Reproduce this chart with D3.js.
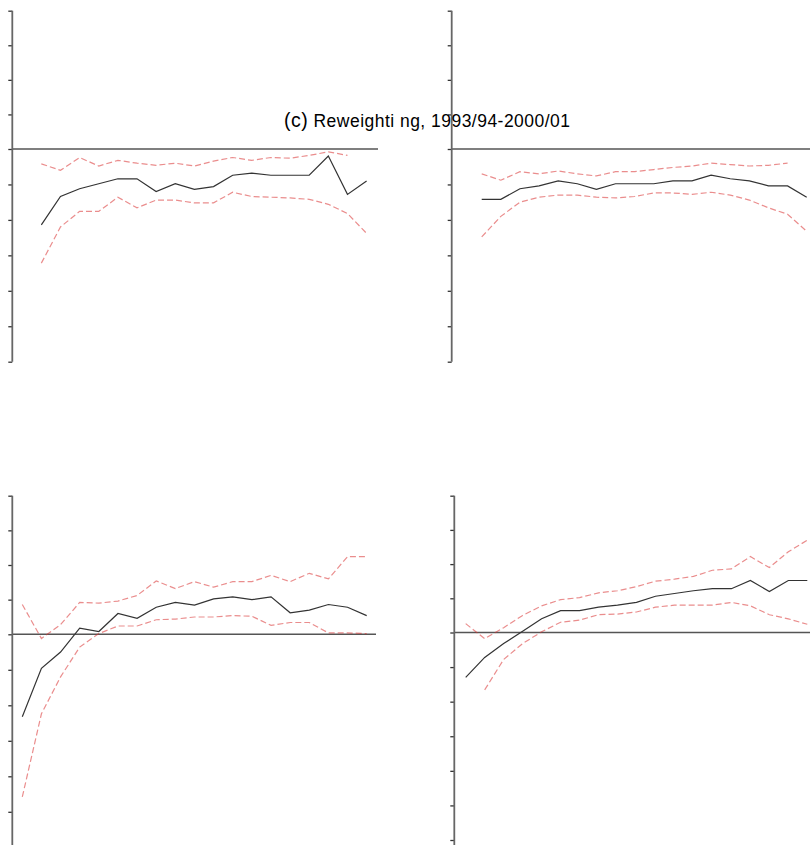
<!DOCTYPE html>
<html>
<head>
<meta charset="utf-8">
<script src="https://cdn.jsdelivr.net/npm/d3@7/dist/d3.min.js"></script>
<style>
  html, body { margin: 0; padding: 0; background: #fff; }
  svg { display: block; }
</style>
</head>
<body>
<svg id="chart" width="810" height="845"></svg>
<script>
// ---- data ----
const categories = ["5","10","15","20","25","30","35","40","45","50","55","60","65","70","75","80","85","90","95"];
const tickValues = [-0.30,-0.25,-0.20,-0.15,-0.10,-0.05,0,0.05,0.10,0.15,0.20];
const titleLabel = "(c)";
const titleText = " Reweighti ng, 1993/94-2000/01";

// top-left
const tlMain  = [null,-0.107,-0.067,-0.056,-0.049,-0.042,-0.042,-0.060,-0.049,-0.057,-0.053,-0.037,-0.034,-0.037,-0.037,-0.037,-0.010,-0.064,-0.045];
const tlUpper = [null,-0.021,-0.030,-0.012,-0.024,-0.016,-0.020,-0.023,-0.020,-0.024,-0.017,-0.012,-0.016,-0.012,-0.013,-0.009,-0.004,-0.009,null];
const tlLower = [null,-0.161,-0.110,-0.088,-0.088,-0.068,-0.083,-0.072,-0.072,-0.076,-0.076,-0.061,-0.067,-0.068,-0.069,-0.071,-0.078,-0.091,-0.119];
// top-right
const trMain  = [null,-0.071,-0.071,-0.056,-0.052,-0.045,-0.049,-0.057,-0.049,-0.049,-0.049,-0.045,-0.045,-0.037,-0.042,-0.045,-0.052,-0.052,-0.068];
const trUpper = [null,-0.035,-0.044,-0.032,-0.035,-0.031,-0.035,-0.038,-0.032,-0.032,-0.029,-0.026,-0.024,-0.020,-0.022,-0.024,-0.023,-0.020,null];
const trLower = [null,-0.124,-0.095,-0.075,-0.068,-0.065,-0.065,-0.068,-0.069,-0.067,-0.062,-0.062,-0.064,-0.061,-0.065,-0.072,-0.083,-0.092,-0.116];
// bottom-left
const blMain  = [-0.116,-0.048,-0.025,0.009,0.004,0.030,0.023,0.039,0.046,0.042,0.051,0.054,0.050,0.054,0.031,0.035,0.043,0.039,0.027];
const blUpper = [0.043,-0.006,0.014,0.046,0.045,0.048,0.056,0.077,0.066,0.076,0.068,0.076,0.076,0.085,0.076,0.088,0.080,0.112,0.112];
const blLower = [-0.229,-0.112,-0.060,-0.018,0.001,0.012,0.012,0.021,0.022,0.025,0.025,0.027,0.026,0.013,0.017,0.017,0.002,0.002,0.001];
// bottom-right
const brMain  = [-0.065,-0.036,-0.016,0.002,0.020,0.032,0.032,0.037,0.040,0.044,0.053,0.057,0.061,0.064,0.064,0.076,0.060,0.076,0.076];
const brUpper = [0.013,-0.009,0.007,0.025,0.039,0.048,0.051,0.058,0.061,0.067,0.075,0.078,0.082,0.091,0.093,0.111,0.095,0.118,0.135];
const brLower = [null,-0.083,-0.039,-0.016,0.001,0.015,0.018,0.026,0.027,0.030,0.037,0.040,0.040,0.040,0.044,0.039,0.026,0.020,0.012];

// ---- layout (positions only) ----
const panels = [
  { main: tlMain, upper: tlUpper, lower: tlLower, axisX: 12.3, x0: 22.2, x1: 366.6, yR: [361.7, 149, 10.7], axisBottom: 361.7, zeroX1: 378 },
  { main: trMain, upper: trUpper, lower: trLower, axisX: 451.7, x0: 462.6, x1: 806.7, yR: [361.7, 149, 10.7], axisBottom: 361.7, zeroX1: 810 },
  { main: blMain, upper: blUpper, lower: blLower, axisX: 12.3, x0: 22.3, x1: 366.7, yR: [847.3, 634.3, 495.7], axisBottom: 846, zeroX1: 376 },
  { main: brMain, upper: brUpper, lower: brLower, axisX: 454.3, x0: 465.7, x1: 807.3, yR: [840, 632.5, 495.7], axisBottom: 846, zeroX1: 810 }
];

const svg = d3.select("#chart");

panels.forEach(p => {
  const x = d3.scalePoint().domain(categories).range([p.x0, p.x1]);
  const y = d3.scaleLinear().domain([-0.30, 0, 0.20]).range(p.yR);
  const g = svg.append("g");

  // zero line
  g.append("line")
    .attr("x1", p.axisX).attr("x2", p.zeroX1)
    .attr("y1", y(0)).attr("y2", y(0))
    .attr("stroke", "#555").attr("stroke-width", 1.6);

  // y axis
  const ax = g.append("g").attr("transform", `translate(${p.axisX},0)`)
    .call(d3.axisLeft(y).tickValues(tickValues).tickSize(4).tickSizeOuter(0).tickFormat(""));
  ax.select(".domain").remove();
  ax.selectAll(".tick line").attr("stroke", "#333").attr("stroke-width", 1.3);
  g.append("line")
    .attr("x1", p.axisX).attr("x2", p.axisX)
    .attr("y1", y(0.20)).attr("y2", p.axisBottom)
    .attr("stroke", "#666").attr("stroke-width", 1.8);

  const line = d3.line()
    .defined(d => d != null)
    .x((d, i) => x(categories[i]))
    .y(d => y(d));

  [p.upper, p.lower].forEach(arr => {
    g.append("path")
      .datum(arr)
      .attr("d", line)
      .attr("fill", "none")
      .attr("stroke", "#d83030")
      .attr("stroke-opacity", 0.55)
      .attr("stroke-width", 1.2)
      .attr("stroke-dasharray", "6,3");
  });

  g.append("path")
    .datum(p.main)
    .attr("d", line)
    .attr("fill", "none")
    .attr("stroke", "#333")
    .attr("stroke-width", 1.2);
});

// title
const t = svg.append("text")
  .attr("x", 284).attr("y", 126.5)
  .attr("font-family", "'Liberation Sans', Arial, sans-serif")
  .attr("font-size", 17.5)
  .attr("fill", "#000")
  .attr("textLength", 286)
  .attr("lengthAdjust", "spacing");
t.append("tspan").attr("font-size", 19.5).text(titleLabel);
t.append("tspan").text(titleText);
</script>
</body>
</html>
